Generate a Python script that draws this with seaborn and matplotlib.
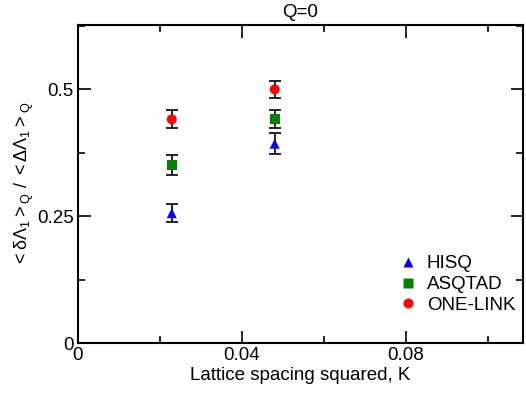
import matplotlib
matplotlib.use("Agg")
import matplotlib.pyplot as plt
import seaborn as sns
import pandas as pd
import numpy as np
from matplotlib.ticker import MultipleLocator

# Data
actions = ["HISQ", "ASQTAD", "ONE-LINK"]
spacing = [0.0229, 0.048]
hisq_vals = [0.256, 0.393]
hisq_errs = [0.018, 0.021]
asqtad_vals = [0.351, 0.442]
asqtad_errs = [0.019, 0.018]
onelink_vals = [0.441, 0.500]
onelink_errs = [0.018, 0.017]

colors = {"HISQ": "#0000ff", "ASQTAD": "#008000", "ONE-LINK": "#ff0000"}
markers = {"HISQ": "^", "ASQTAD": "s", "ONE-LINK": "o"}

df = pd.DataFrame({
    "K": spacing * 3,
    "ratio": hisq_vals + asqtad_vals + onelink_vals,
    "err": hisq_errs + asqtad_errs + onelink_errs,
    "action": sum([[a] * len(spacing) for a in actions], []),
})

sns.set_theme(style="ticks")
plt.rcParams["font.family"] = ["Liberation Sans", "DejaVu Sans"]
plt.rcParams["mathtext.fontset"] = "custom"
plt.rcParams["mathtext.rm"] = "Liberation Sans"
plt.rcParams["mathtext.it"] = "Liberation Sans"
plt.rcParams["mathtext.bf"] = "Liberation Sans:bold"
plt.rcParams["text.color"] = "black"
plt.rcParams["axes.labelcolor"] = "black"
plt.rcParams["xtick.color"] = "black"
plt.rcParams["ytick.color"] = "black"

fig = plt.figure(figsize=(5.26, 3.94), dpi=100)
ax = fig.add_axes([0.148, 0.1294, 0.846, 0.8071])

for a in actions:
    sub = df[df["action"] == a]
    ax.errorbar(sub["K"], sub["ratio"], yerr=sub["err"], fmt="none",
                ecolor="black", elinewidth=1.2, capsize=4, capthick=1.2, zorder=2)

sns.scatterplot(data=df, x="K", y="ratio", hue="action", style="action",
                palette=colors, markers=markers, hue_order=actions,
                style_order=actions, s=52, edgecolor="none", ax=ax, zorder=3)

ax.set_xlim(0, 0.1085)
ax.set_ylim(0, 0.627)
ax.xaxis.set_minor_locator(MultipleLocator(0.02))
ax.yaxis.set_minor_locator(MultipleLocator(0.125))
ax.set_xticks([0, 0.04, 0.08])
ax.set_xticklabels(["0", "0.04", "0.08"])
ax.set_yticks([0, 0.25, 0.5])
ax.set_yticklabels(["0", "0.25", "0.5"])

ax.tick_params(which="both", direction="in", top=True, right=True,
               labelsize=13.5, width=1.2, color="black", labelcolor="black", pad=3)
ax.tick_params(which="major", length=9)
ax.tick_params(which="minor", length=5)
for s in ax.spines.values():
    s.set_linewidth(1.5)
    s.set_color("black")

ax.set_xlabel("Lattice spacing squared, K", fontsize=13.5, labelpad=2, color="black")
ax.set_ylabel(r"${<}\delta\Lambda_1{>}_Q\ /\ {<}\Delta\Lambda_1{>}_Q$", fontsize=13,
              labelpad=1, color="black")
ax.set_title("Q=0", fontsize=13.5, pad=6, color="black")

handles, labels = ax.get_legend_handles_labels()
leg = ax.legend(handles, labels, loc="upper left", bbox_to_anchor=(0.70, 0.3),
                frameon=False, fontsize=13.5, handletextpad=0.4,
                labelspacing=0.2, borderaxespad=0, handlelength=1.2,
                markerscale=1.0)
for t in leg.get_texts():
    t.set_color("black")

fig.savefig("out.png", dpi=100)
